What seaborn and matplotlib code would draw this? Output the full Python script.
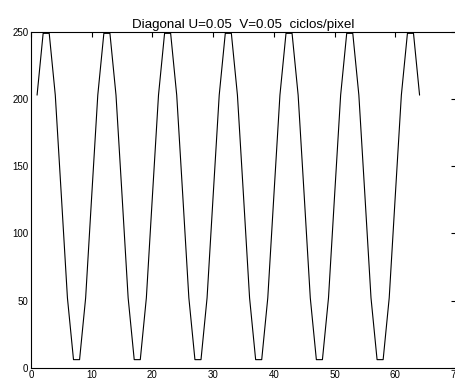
import matplotlib
matplotlib.use("Agg")
import matplotlib.pyplot as plt
import seaborn as sns
import pandas as pd

x_values = list(range(1, 65))
y_values = [
    203, 249, 249, 203, 128, 52, 6, 6, 52, 128,
    203, 249, 249, 203, 128, 52, 6, 6, 52, 128,
    203, 249, 249, 203, 128, 52, 6, 6, 52, 128,
    203, 249, 249, 203, 128, 52, 6, 6, 52, 128,
    203, 249, 249, 203, 128, 52, 6, 6, 52, 128,
    203, 249, 249, 203, 128, 52, 6, 6, 52, 128,
    203, 249, 249, 203,
]
x_ticks = [0, 10, 20, 30, 40, 50, 60, 70]
y_ticks = [0, 50, 100, 150, 200, 250]
title = "Diagonal U=0.05  V=0.05  ciclos/pixel"

sns.set_style("white")
plt.rcParams['font.family'] = ['Liberation Sans', 'DejaVu Sans']
plt.rcParams['text.color'] = 'black'

df = pd.DataFrame({"x": x_values, "y": y_values})

fig = plt.figure(figsize=(4.56, 3.81), dpi=100)
ax = fig.add_axes([31/456, 13.3/381, 1 - 31/456, (367.7-32)/381])
sns.lineplot(data=df, x="x", y="y", ax=ax, color="black", linewidth=0.8)
ax.set_xlim(0, 70)
ax.set_ylim(0, 250)
ax.set_xticks(x_ticks)
ax.set_yticks(y_ticks)
ax.set_xlabel("")
ax.set_ylabel("")
ax.tick_params(direction="in", length=3.5, width=0.8, labelsize=7, pad=2,
               top=True, right=True, colors="black")
for s in ax.spines.values():
    s.set_linewidth(0.8)
    s.set_color("black")
ax.set_title(title, fontsize=9.6, pad=3, color="black")
fig.savefig("out.png", dpi=100)
